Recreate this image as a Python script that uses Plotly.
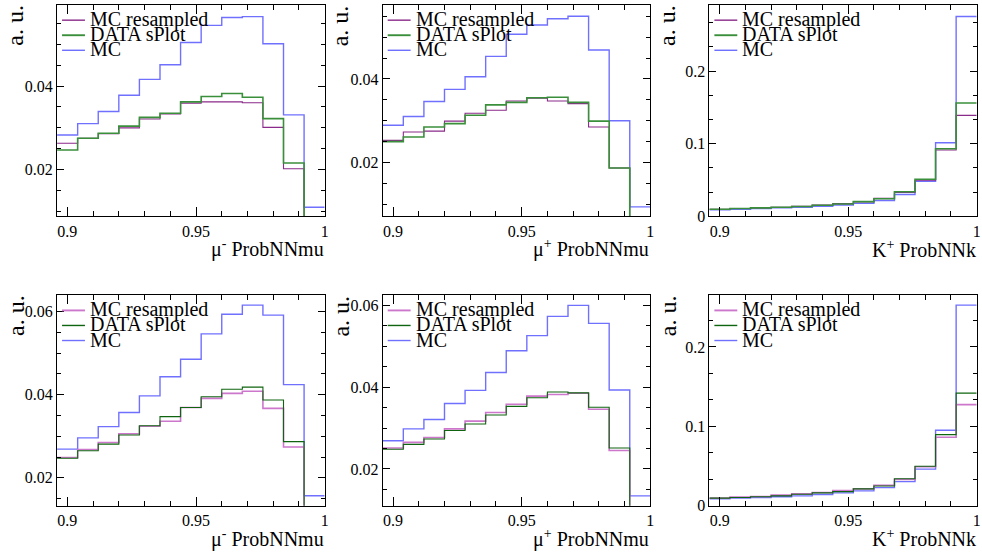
import plotly.graph_objects as go

# ---------------- data ----------------
bin_edges = [0.896, 0.904, 0.912, 0.920, 0.928, 0.936, 0.944,
             0.952, 0.960, 0.968, 0.976, 0.984, 0.992, 1.000]

series_names = ["MC resampled", "DATA sPlot", "MC"]
x_titles = ["μ<sup>-</sup> ProbNNmu", "μ<sup>+</sup> ProbNNmu", "K<sup>+</sup> ProbNNk",
            "μ<sup>-</sup> ProbNNmu", "μ<sup>+</sup> ProbNNmu", "K<sup>+</sup> ProbNNk"]
y_title = "a. u."
x_tick_vals = [0.9, 0.95, 1.0]
x_tick_text = ["0.9", "0.95", "1"]

# top row, mu- ProbNNmu
top_mum_mc_resampled = [0.0263, 0.0275, 0.0286, 0.0300, 0.0321, 0.0333, 0.0359, 0.0362, 0.0362, 0.0360, 0.0301, 0.0202, 0.0050]
top_mum_data_splot   = [0.0247, 0.0275, 0.0287, 0.0304, 0.0325, 0.0335, 0.0362, 0.0375, 0.0382, 0.0373, 0.0322, 0.0216, 0.0050]
top_mum_mc           = [0.0283, 0.0310, 0.0339, 0.0378, 0.0416, 0.0451, 0.0504, 0.0545, 0.0564, 0.0566, 0.0501, 0.0331, 0.0110]

# top row, mu+ ProbNNmu
top_mup_mc_resampled = [0.0253, 0.0273, 0.0275, 0.0299, 0.0318, 0.0325, 0.0347, 0.0354, 0.0347, 0.0341, 0.0285, 0.0187, 0.0040]
top_mup_data_splot   = [0.0250, 0.0261, 0.0285, 0.0293, 0.0313, 0.0338, 0.0344, 0.0355, 0.0356, 0.0344, 0.0299, 0.0187, 0.0040]
top_mup_mc           = [0.0289, 0.0310, 0.0346, 0.0375, 0.0405, 0.0454, 0.0507, 0.0529, 0.0544, 0.0550, 0.0469, 0.0300, 0.0094]

# top row, K+ ProbNNk
top_k_mc_resampled = [0.0100, 0.0110, 0.0118, 0.0127, 0.0140, 0.0158, 0.0176, 0.0200, 0.0249, 0.0330, 0.0498, 0.0914, 0.1390]
top_k_data_splot   = [0.0100, 0.0110, 0.0118, 0.0127, 0.0136, 0.0154, 0.0172, 0.0204, 0.0244, 0.0339, 0.0511, 0.0932, 0.1560]
top_k_mc           = [0.0090, 0.0100, 0.0110, 0.0118, 0.0127, 0.0140, 0.0158, 0.0180, 0.0220, 0.0303, 0.0484, 0.1014, 0.2750]

# bottom row, mu- ProbNNmu
bot_mum_mc_resampled = [0.0249, 0.0268, 0.0285, 0.0306, 0.0324, 0.0336, 0.0369, 0.0391, 0.0403, 0.0408, 0.0367, 0.0274, 0.0080]
bot_mum_data_splot   = [0.0247, 0.0265, 0.0281, 0.0303, 0.0325, 0.0347, 0.0369, 0.0395, 0.0413, 0.0418, 0.0387, 0.0287, 0.0080]
bot_mum_mc           = [0.0269, 0.0296, 0.0323, 0.0357, 0.0397, 0.0443, 0.0485, 0.0546, 0.0593, 0.0615, 0.0591, 0.0424, 0.0157]

# bottom row, mu+ ProbNNmu
bot_mup_mc_resampled = [0.0251, 0.0265, 0.0277, 0.0298, 0.0317, 0.0338, 0.0358, 0.0378, 0.0382, 0.0385, 0.0346, 0.0245, 0.0060]
bot_mup_data_splot   = [0.0248, 0.0260, 0.0273, 0.0294, 0.0310, 0.0332, 0.0353, 0.0374, 0.0388, 0.0386, 0.0351, 0.0251, 0.0060]
bot_mup_mc           = [0.0269, 0.0298, 0.0321, 0.0360, 0.0392, 0.0436, 0.0489, 0.0526, 0.0573, 0.0600, 0.0556, 0.0393, 0.0134]

# bottom row, K+ ProbNNk
bot_k_mc_resampled = [0.0095, 0.0108, 0.0116, 0.0133, 0.0149, 0.0166, 0.0191, 0.0212, 0.0257, 0.0332, 0.0490, 0.0863, 0.1274]
bot_k_data_splot   = [0.0095, 0.0104, 0.0112, 0.0124, 0.0145, 0.0162, 0.0178, 0.0212, 0.0249, 0.0340, 0.0498, 0.0896, 0.1419]
bot_k_mc           = [0.0087, 0.0095, 0.0104, 0.0112, 0.0124, 0.0141, 0.0162, 0.0187, 0.0228, 0.0303, 0.0461, 0.0950, 0.2527]

panel_series = [
    (top_mum_mc_resampled, top_mum_data_splot, top_mum_mc),
    (top_mup_mc_resampled, top_mup_data_splot, top_mup_mc),
    (top_k_mc_resampled, top_k_data_splot, top_k_mc),
    (bot_mum_mc_resampled, bot_mum_data_splot, bot_mum_mc),
    (bot_mup_mc_resampled, bot_mup_data_splot, bot_mup_mc),
    (bot_k_mc_resampled, bot_k_data_splot, bot_k_mc),
]

# ---------------- layout / style ----------------
W, H = 982, 558
FONT = "Liberation Serif"

col_px = [(57.3, 326.0), (384.3, 653.0), (712.3, 980.7)]
row_px = [(5.0, 220.0), (300.0, 514.0)]
y_ranges = [[0.0088, 0.0594], [0.0071, 0.0577], [0.0, 0.291],
            [0.0133, 0.0639], [0.0110, 0.0625], [0.0, 0.2653]]
y_dtick = [0.02, 0.02, 0.1, 0.02, 0.02, 0.1]
y_minor = [0.005, 0.005, 0.1 / 3, 0.005, 0.005, 0.1 / 3]

row_colors = [
    {"res": "#8a2a8a", "res_w": 1.1, "dat": "#3a8f3a", "dat_w": 1.6},
    {"res": "#cc77cc", "res_w": 1.6, "dat": "#0f650f", "dat_w": 1.1},
]
mc_color = "#7070ff"


def fx(px):
    return px / W


def fy(py):
    return 1 - py / H


fig = go.Figure()
layout = dict(width=W, height=H, margin=dict(l=0, r=0, t=0, b=0),
              paper_bgcolor="white", plot_bgcolor="white",
              showlegend=False, font=dict(family=FONT, size=16, color="black"))
annotations = []
shapes = []

for i, series in enumerate(panel_series):
    r, c = divmod(i, 3)
    xl, xr = col_px[c]
    yt, yb = row_px[r]
    ax = "" if i == 0 else str(i + 1)
    cols = row_colors[r]
    res, dat, mc = series
    styles = [(mc, mc_color, 1.4), (res, cols["res"], cols["res_w"]), (dat, cols["dat"], cols["dat_w"])]
    for vals, colr, lw in styles:
        fig.add_trace(go.Scatter(
            x=bin_edges, y=list(vals) + [vals[-1]], mode="lines",
            line=dict(shape="hv", color=colr, width=lw),
            xaxis="x" + ax, yaxis="y" + ax, hoverinfo="skip"))

    layout["xaxis" + ax] = dict(
        domain=[fx(xl), fx(xr)], range=[0.896, 1.0], anchor="y" + ax,
        showline=True, linecolor="black", linewidth=1, mirror="ticks",
        ticks="inside", ticklen=9, tickcolor="black", tickwidth=1,
        tickvals=x_tick_vals, ticktext=x_tick_text, showgrid=False, zeroline=False,
        tickfont=dict(family=FONT, size=16, color="black"),
        minor=dict(dtick=0.01, tick0=0.9, ticks="inside", ticklen=5,
                   tickcolor="black", showgrid=False))
    layout["yaxis" + ax] = dict(
        domain=[fy(yb), fy(yt)], range=y_ranges[i], anchor="x" + ax,
        showline=True, linecolor="black", linewidth=1, mirror="ticks",
        ticks="inside", ticklen=7, tickcolor="black", tickwidth=1,
        dtick=y_dtick[i], tick0=0, showgrid=False, zeroline=False,
        tickfont=dict(family=FONT, size=16, color="black"),
        minor=dict(dtick=y_minor[i], tick0=0, ticks="inside", ticklen=4,
                   tickcolor="black", showgrid=False))

    # axis titles
    annotations.append(dict(x=fx(xr + 1), y=fy(yb + 33), xref="paper", yref="paper",
                            text=x_titles[i], showarrow=False, xanchor="right", yanchor="middle",
                            font=dict(family=FONT, size=20, color="black")))
    annotations.append(dict(x=fx(xl - 42), y=fy(yt - 2), xref="paper", yref="paper",
                            text=y_title, showarrow=False, textangle=-90,
                            xanchor="center", yanchor="top",
                            font=dict(family=FONT, size=24, color="black")))

    # legend
    leg_cols = [(cols["res"], cols["res_w"] + 0.3), (cols["dat"], cols["dat_w"] + 0.3), (mc_color, 1.4)]
    for k, (name, (lc, lw)) in enumerate(zip(series_names, leg_cols)):
        ly = yt + 15.5 + 15.3 * k
        shapes.append(dict(type="line", xref="paper", yref="paper",
                           x0=fx(xl + 5), x1=fx(xl + 28), y0=fy(ly), y1=fy(ly),
                           line=dict(color=lc, width=lw)))
        annotations.append(dict(x=fx(xl + 31), y=fy(ly - 1), xref="paper", yref="paper",
                                text=name, showarrow=False, xanchor="left", yanchor="middle",
                                font=dict(family=FONT, size=20, color="black")))

layout["annotations"] = annotations
layout["shapes"] = shapes
fig.update_layout(**layout)
fig.write_html("out.html")
